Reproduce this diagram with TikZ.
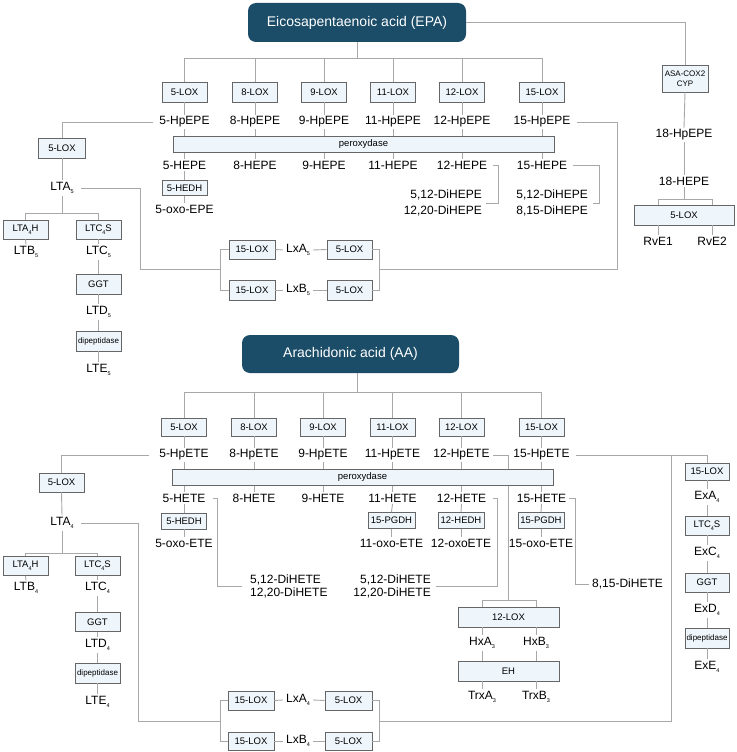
\documentclass[tikz,border=0pt]{standalone}
\usepackage{fontspec}
\setmainfont{Liberation Sans}
\definecolor{ttl}{HTML}{1B4C68}
\definecolor{bxf}{HTML}{EEF6FC}
\definecolor{bxd}{HTML}{666666}
\definecolor{lnc}{HTML}{A8A8A8}
\newcommand\sbs[1]{\raisebox{-0.55ex}{\fontsize{5.5}{6}\selectfont #1}}
\begin{document}
\begin{tikzpicture}[x=1pt,y=-1pt,
 ln/.style={draw=lnc,line width=0.9pt},
 lbl/.style={inner sep=1.5pt,font=\fontsize{12}{13}\selectfont},
 enz/.style={draw=bxd,fill=bxf,line width=0.8pt,inner sep=0pt,minimum width=45pt,minimum height=19pt,font=\fontsize{9.5}{11}\selectfont},
 smalltxt/.style={font=\fontsize{8}{9.5}\selectfont},
 ttlbox/.style={fill=ttl,rounded corners=8pt,text=white,font=\fontsize{14}{16}\selectfont,minimum width=218pt,minimum height=39pt},
]
\fill[white] (0,0) rectangle (736,752);
\useasboundingbox (0,0) rectangle (736,752);

% ================= EPA =================
\node[ttlbox] (epa) at (357,22.5) {Eicosapentaenoic acid (EPA)};
\coordinate (ej) at (357,58);
\draw[ln] (epa.south) -- (ej);
\foreach \n/\x in {5/184.5,8/255,9/324,11/393,12/462,15/542} {
 \node[enz,minimum height=20pt] (elox\n) at (\x,92) {\n-LOX};
 \node[lbl] (ehp\n) at (\x,122) {\n-HpEPE};
 \node[lbl] (ehe\n) at (\x,165) {\n-HEPE};
 \draw[ln] (elox\n.north) |- (ej);
 \draw[ln] (elox\n.south) -- (ehp\n.north);
 \draw[ln] (ehp\n.south) -- (ehe\n.north);
}
\node[enz,minimum width=381pt,minimum height=16pt] (eperox) at (363.5,144) {peroxydase};

\node[enz,minimum height=15pt] (ehedh) at (184.5,188) {5-HEDH};
\node[lbl] (eoxo) at (184.5,209) {5-oxo-EPE};
\draw[ln] (ehe5.south) -- (ehedh.north);
\draw[ln] (ehedh.south) -- (eoxo.north);

\node[lbl,inner sep=0pt,align=right,anchor=east,font=\fontsize{12}{16}\selectfont] (edi12) at (482,203) {5,12-DiHEPE\\12,20-DiHEPE};
\node[lbl,inner sep=0pt,align=right,anchor=east,font=\fontsize{12}{16}\selectfont] (edi15) at (588,203) {5,12-DiHEPE\\8,15-DiHEPE};
\draw[ln,shorten <=4.5pt,shorten >=4pt] (ehe12.east) -- ++(9.5,0) |- (edi12.east);
\draw[ln,shorten <=4.5pt,shorten >=5pt] (ehe15.east) -- ++(30.5,0) |- (edi15.east);

% left branch
\node[enz,minimum width=47pt,minimum height=20pt] (eloxL) at (62,148) {5-LOX};
\draw[ln,shorten <=4.5pt] (ehp5.west) -| (eloxL.north);
\node[lbl] (elta5) at (62,188) {LTA\sbs{5}};
\draw[ln] (eloxL.south) -- (elta5.north);
\coordinate (ejL) at (62,213);
\draw[ln] (elta5.south) -- (ejL);
\node[enz] (elta4h) at (25.5,229.5) {LTA\sbs{4}H};
\node[enz] (eltc4s) at (98.5,229.5) {LTC\sbs{4}S};
\draw[ln] (elta4h.north) |- (ejL);
\draw[ln] (eltc4s.north) |- (ejL);
\node[lbl] (eltb5) at (26,252) {LTB\sbs{5}};
\node[lbl] (eltc5) at (98.5,252) {LTC\sbs{5}};
\node[enz,minimum height=20pt] (eggt) at (98.5,284) {GGT};
\node[lbl] (eltd5) at (98.5,312) {LTD\sbs{5}};
\node[enz,smalltxt,minimum height=20pt] (edip) at (98.5,341) {dipeptidase};
\node[lbl] (elte5) at (98.5,370) {LTE\sbs{5}};
\draw[ln] (elta4h.south) -- (eltb5.north);
\draw[ln] (eltc4s.south) -- (eltc5.north);
\draw[ln] (eltc5.south) -- (eggt.north);
\draw[ln] (eggt.south) -- (eltd5.north);
\draw[ln] (eltd5.south) -- (edip.north);
\draw[ln] (edip.south) -- (elte5.north);

% lipoxins EPA
\node[enz,minimum width=46pt] (elxl15a) at (252,249.5) {15-LOX};
\node[enz,minimum width=46pt,minimum height=20pt] (elxl15b) at (252,290) {15-LOX};
\node[lbl,inner sep=3pt] (elxa) at (298,250) {LxA\sbs{5}};
\node[lbl,inner sep=3pt] (elxb) at (298,290) {LxB\sbs{5}};
\node[enz] (elxl5a) at (349.5,249.5) {5-LOX};
\node[enz,minimum height=20pt] (elxl5b) at (349.5,290) {5-LOX};
\draw[ln] (elxl15a.east) -- (elxa.west);
\draw[ln] (elxa.east) -- (elxl5a.west);
\draw[ln] (elxl15b.east) -- (elxb.west);
\draw[ln] (elxb.east) -- (elxl5b.west);
\coordinate (eL1) at (140,269);
\coordinate (eL) at (220,269);
\draw[ln,shorten <=6pt] (elta5.east) -| (eL1) -- (eL);
\draw[ln] (elxl15a.west) -| (eL);
\draw[ln] (elxl15b.west) -| (eL);
\coordinate (eR) at (379,269);
\coordinate (eR2) at (617,269);
\draw[ln] (elxl5a.east) -| (eR);
\draw[ln] (elxl5b.east) -| (eR);
\draw[ln,shorten <=4.5pt] (ehp15.east) -| (eR2) -- (eR);

% resolvins
\node[enz,smalltxt,align=center,minimum width=46pt,minimum height=27pt] (ecox) at (685,78.5) {ASA-COX2\\CYP};
\draw[ln] (epa.east) -| (ecox.north);
\node[lbl] (ehp18) at (684,135) {18-HpEPE};
\node[lbl] (ehe18) at (684,181) {18-HEPE};
\draw[ln] (ecox.south) -- (ehp18.north);
\draw[ln] (ehp18.south) -- (ehe18.north);
\node[enz,minimum width=100pt,minimum height=20pt] (eloxR) at (684,215) {5-LOX};
\node[lbl] (erv1) at (658,241) {RvE1};
\node[lbl] (erv2) at (712,241) {RvE2};
\coordinate (ej18) at (684,199);
\draw[ln] (ehe18.south) -- (ej18);
\draw[ln] (eloxR.north -| erv1) |- (ej18);
\draw[ln] (eloxR.north -| erv2) |- (ej18);
\draw[ln] (eloxR.south -| erv1) -- (erv1.north);
\draw[ln] (eloxR.south -| erv2) -- (erv2.north);

% ================= AA =================
\node[ttlbox,minimum width=217pt,minimum height=38pt] (aa) at (350.5,354) {Arachidonic acid (AA)};
\coordinate (aj) at (357,392);
\draw[ln] (aa.south -| aj) -- (aj);
\foreach \n/\x in {5/184,8/254,9/323,11/392.5,12/461.5,15/541.5} {
 \node[enz,minimum height=18pt] (alox\n) at (\x,427) {\n-LOX};
 \node[lbl] (ahp\n) at (\x,455) {\n-HpETE};
 \node[lbl] (ahe\n) at (\x,498) {\n-HETE};
 \draw[ln] (alox\n.north) |- (aj);
 \draw[ln] (alox\n.south) -- (ahp\n.north);
 \draw[ln] (ahp\n.south) -- (ahe\n.north);
}
% 12-HpETE to hepoxilins (behind peroxydase bar)
\coordinate (aj12) at (508,600);
\draw[ln,shorten <=2pt] (ahp12.east) -| (aj12);
\node[enz,minimum width=381pt,minimum height=16pt] (aperox) at (362.5,477) {peroxydase};

\node[enz,minimum height=16pt] (ahedh5) at (184,521) {5-HEDH};
\node[lbl] (aoxo5) at (184,543) {5-oxo-ETE};
\node[enz,minimum width=47pt,minimum height=16pt] (apgdh11) at (391.5,520.5) {15-PGDH};
\node[lbl] (aoxo11) at (391.5,543) {11-oxo-ETE};
\node[enz,minimum width=46pt,minimum height=16pt] (ahedh12) at (461,520.5) {12-HEDH};
\node[lbl] (aoxo12) at (461,543) {12-oxoETE};
\node[enz,minimum width=46pt,minimum height=16pt] (apgdh15) at (541,520.5) {15-PGDH};
\node[lbl] (aoxo15) at (541,543) {15-oxo-ETE};
\draw[ln] (ahe5.south) -- (ahedh5.north);
\draw[ln] (ahedh5.south) -- (aoxo5.north);
\draw[ln] (ahe11.south) -- (apgdh11.north);
\draw[ln] (apgdh11.south) -- (aoxo11.north);
\draw[ln] (ahe12.south) -- (ahedh12.north);
\draw[ln] (ahedh12.south) -- (aoxo12.north);
\draw[ln] (ahe15.south) -- (apgdh15.north);
\draw[ln] (apgdh15.south) -- (aoxo15.north);

\node[lbl,inner sep=0pt,align=left,anchor=west,font=\fontsize{12}{13.5}\selectfont] (adi5) at (250,586.5) {5,12-DiHETE\\12,20-DiHETE};
\node[lbl,inner sep=0pt,align=right,anchor=east,font=\fontsize{12}{13.5}\selectfont] (adi12) at (431,586.5) {5,12-DiHETE\\12,20-DiHETE};
\node[lbl,inner sep=0pt,anchor=west] (adi15) at (592,584) {8,15-DiHETE};
\draw[ln,shorten <=6pt,shorten >=8pt] (ahe5.east) -- ++(10,0) |- (adi5.west);
\draw[ln,shorten <=5.5pt,shorten >=5pt] (ahe12.east) -- ++(9.5,0) |- (adi12.east);
\draw[ln,shorten <=1.5pt,shorten >=3pt] (ahe15.east) -- ++(7.5,0) |- (adi15.west);

% hepoxilins
\node[enz,minimum width=101pt,minimum height=20pt] (a12lox) at (508.5,617) {12-LOX};
\node[lbl] (ahxa) at (482,643) {HxA\sbs{3}};
\node[lbl] (ahxb) at (536,643) {HxB\sbs{3}};
\node[enz,minimum width=101pt,minimum height=20pt] (aeh) at (508.5,671) {EH};
\node[lbl] (atrxa) at (482,697) {TrxA\sbs{3}};
\node[lbl] (atrxb) at (536,697) {TrxB\sbs{3}};
\draw[ln] (a12lox.north -| ahxa) |- (aj12);
\draw[ln] (a12lox.north -| ahxb) |- (aj12);
\draw[ln] (a12lox.south -| ahxa) -- (ahxa.north);
\draw[ln] (a12lox.south -| ahxb) -- (ahxb.north);
\draw[ln] (ahxa.south) -- (aeh.north -| ahxa);
\draw[ln] (ahxb.south) -- (aeh.north -| ahxb);
\draw[ln] (aeh.south -| atrxa) -- (atrxa.north);
\draw[ln] (aeh.south -| atrxb) -- (atrxb.north);

% left branch AA
\node[enz] (aloxL) at (61.5,482.5) {5-LOX};
\draw[ln,shorten <=8.5pt] (ahp5.west) -| (aloxL.north);
\node[lbl] (alta4) at (62,523) {LTA\sbs{4}};
\draw[ln] (aloxL.south) -- (alta4.north);
\coordinate (ajL) at (62,553);
\draw[ln] (alta4.south) -- (ajL);
\node[enz] (alta4h) at (25.5,566) {LTA\sbs{4}H};
\node[enz] (altc4s) at (97.5,566) {LTC\sbs{4}S};
\draw[ln] (alta4h.north) |- (ajL);
\draw[ln] (altc4s.north) |- (ajL);
\node[lbl] (altb4) at (26,588) {LTB\sbs{4}};
\node[lbl] (altc4) at (97.5,588) {LTC\sbs{4}};
\node[enz] (aggt) at (97.5,622) {GGT};
\node[lbl] (altd4) at (97.5,645) {LTD\sbs{4}};
\node[enz,smalltxt,minimum height=20pt] (adip) at (97.5,673) {dipeptidase};
\node[lbl] (alte4) at (97.5,702) {LTE\sbs{4}};
\draw[ln] (alta4h.south) -- (altb4.north);
\draw[ln] (altc4s.south) -- (altc4.north);
\draw[ln] (altc4.south) -- (aggt.north);
\draw[ln] (aggt.south) -- (altd4.north);
\draw[ln] (altd4.south) -- (adip.north);
\draw[ln] (adip.south) -- (alte4.north);

% lipoxins AA
\node[enz,minimum width=46pt] (alxl15a) at (251,700.5) {15-LOX};
\node[enz,minimum width=46pt,minimum height=18pt] (alxl15b) at (251,741) {15-LOX};
\node[lbl,inner sep=3pt] (alxa) at (298,700) {LxA\sbs{4}};
\node[lbl,inner sep=3pt] (alxb) at (298,741) {LxB\sbs{4}};
\node[enz,minimum width=47pt] (alxl5a) at (348.5,700.5) {5-LOX};
\node[enz,minimum width=47pt,minimum height=18pt] (alxl5b) at (348.5,741) {5-LOX};
\draw[ln] (alxl15a.east) -- (alxa.west);
\draw[ln] (alxa.east) -- (alxl5a.west);
\draw[ln] (alxl15b.east) -- (alxb.west);
\draw[ln] (alxb.east) -- (alxl5b.west);
\coordinate (aL1) at (138,721);
\coordinate (aL) at (220,721);
\draw[ln,shorten <=6pt] (alta4.east) -| (aL1) -- (aL);
\draw[ln] (alxl15a.west) -| (aL);
\draw[ln] (alxl15b.west) -| (aL);
\coordinate (aR) at (379,721);
\coordinate (aR2) at (671,721);
\draw[ln] (alxl5a.east) -| (aR);
\draw[ln] (alxl5b.east) -| (aR);

% eoxins
\node[enz,minimum width=44pt,minimum height=17pt] (aexlox) at (707,471.5) {15-LOX};
\draw[ln,shorten <=4.5pt] (ahp15.east) -| (aexlox.north);
\coordinate (aT) at (671,455);
\draw[ln] (aT) -- (aR2) -- (aR);
\node[lbl] (aexa) at (707,497) {ExA\sbs{4}};
\node[enz,minimum width=44pt] (aexltc) at (707,525.5) {LTC\sbs{4}S};
\node[lbl] (aexc) at (707,553) {ExC\sbs{4}};
\node[enz,minimum width=44pt] (aexggt) at (707,582.5) {GGT};
\node[lbl] (aexd) at (707,610) {ExD\sbs{4}};
\node[enz,smalltxt,minimum width=44pt,minimum height=20pt] (aexdip) at (707,638) {dipeptidase};
\node[lbl] (aexe) at (707,667) {ExE\sbs{4}};
\draw[ln] (aexlox.south) -- (aexa.north);
\draw[ln] (aexa.south) -- (aexltc.north);
\draw[ln] (aexltc.south) -- (aexc.north);
\draw[ln] (aexc.south) -- (aexggt.north);
\draw[ln] (aexggt.south) -- (aexd.north);
\draw[ln] (aexd.south) -- (aexdip.north);
\draw[ln] (aexdip.south) -- (aexe.north);
\end{tikzpicture}
\end{document}
